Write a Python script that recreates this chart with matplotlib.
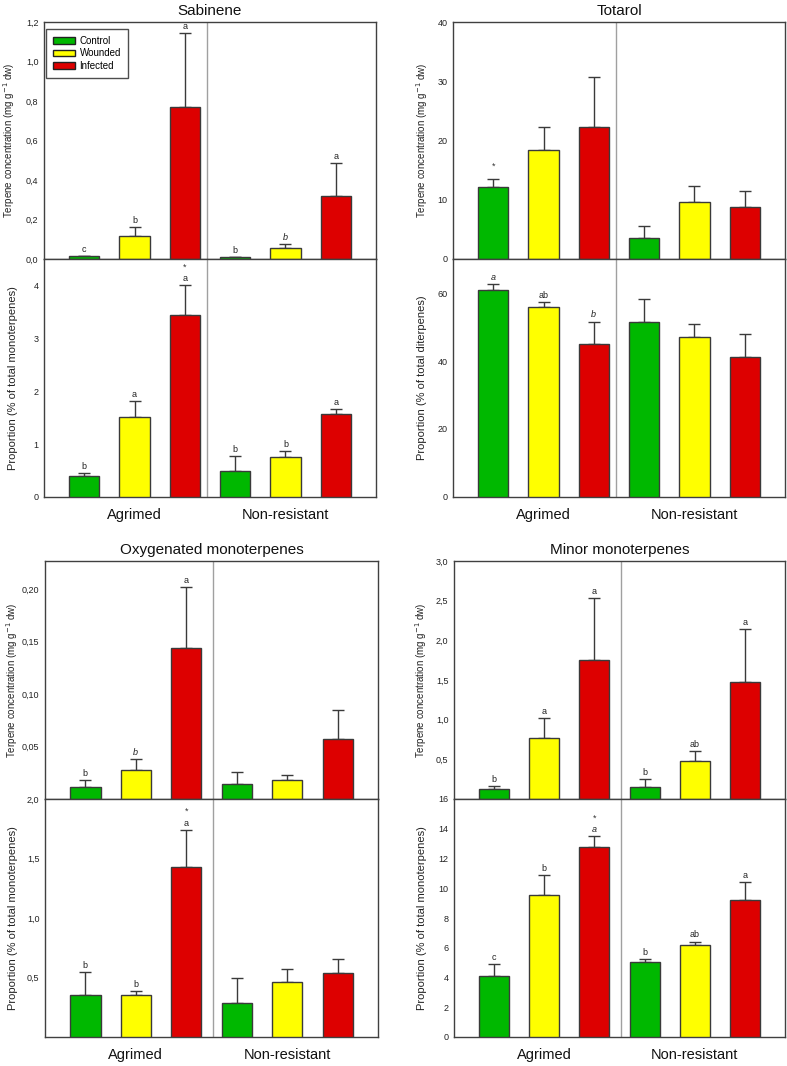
import numpy as np
import matplotlib
matplotlib.use("Agg")
import matplotlib.pyplot as plt
from matplotlib.patches import Patch
from matplotlib.ticker import FuncFormatter

plt.rcParams['font.family'] = ['Liberation Sans', 'DejaVu Sans']

groups = ["Agrimed", "Non-resistant"]
treatments = ["Control", "Wounded", "Infected"]
colors = ["#00b800", "#ffff00", "#dd0000"]

# order: Agrimed C/W/I, Non-resistant C/W/I
# letter codes: "*" prefix = asterisk above, "~" prefix = italic letter
sab_conc = [0.013, 0.118, 0.77, 0.008, 0.054, 0.32]
sab_conc_err = [0.004, 0.042, 0.375, 0.004, 0.02, 0.168]
sab_conc_let = ["c", "b", "a", "b", "~b", "a"]
sab_prop = [0.40, 1.52, 3.44, 0.50, 0.75, 1.57]
sab_prop_err = [0.055, 0.29, 0.56, 0.27, 0.12, 0.09]
sab_prop_let = ["b", "a", "*a", "b", "b", "a"]

tot_conc = [12.1, 18.45, 22.2, 3.6, 9.6, 8.7]
tot_conc_err = [1.45, 3.85, 8.5, 2.0, 2.7, 2.7]
tot_conc_let = ["*", "", "", "", "", ""]
tot_prop = [60.8, 55.8, 44.9, 51.6, 47.1, 41.3]
tot_prop_err = [1.9, 1.6, 6.7, 6.5, 3.9, 6.5]
tot_prop_let = ["~a", "ab", "~b", "", "", ""]

oxy_conc = [0.011, 0.028, 0.144, 0.0147, 0.018, 0.057]
oxy_conc_err = [0.007, 0.010, 0.058, 0.0113, 0.005, 0.0275]
oxy_conc_let = ["b", "~b", "a", "", "", ""]
oxy_prop = [0.35, 0.354, 1.43, 0.286, 0.458, 0.539]
oxy_prop_err = [0.197, 0.031, 0.312, 0.214, 0.112, 0.115]
oxy_prop_let = ["b", "b", "*a", "", "", ""]

min_conc = [0.13, 0.77, 1.755, 0.152, 0.48, 1.473]
min_conc_err = [0.035, 0.25, 0.782, 0.098, 0.13, 0.671]
min_conc_let = ["b", "a", "a", "b", "ab", "a"]
min_prop = [4.1, 9.56, 12.8, 5.07, 6.2, 9.18]
min_prop_err = [0.8, 1.32, 0.7, 0.2, 0.22, 1.22]
min_prop_let = ["c", "b", "*~a", "b", "ab", "a"]

conc_label = "Terpene concentration (mg g$^{-1}$ dw)"


def comma_fmt(nd):
  return FuncFormatter(lambda v, p: f"{v:.{nd}f}".replace(".", ","))


def draw(ax, means, errs, letters, ylim, ticks, nd, divider):
  x = np.arange(6)
  ax.bar(x, means, width=0.6, color=colors * 2, edgecolor="#3a3a3a",
         linewidth=1, zorder=3)
  ax.errorbar(x, means, yerr=[np.zeros(6), errs], fmt="none",
              ecolor="#3a3a3a", elinewidth=1, capsize=4, capthick=1, zorder=2)
  for xi, m, e, lab in zip(x, means, errs, letters):
    star = lab.startswith("*")
    lab = lab.lstrip("*")
    italic = lab.startswith("~")
    lab = lab.lstrip("~")
    if lab:
      ax.annotate(lab, (xi, m + e), xytext=(0, 1.5), textcoords="offset points",
                  ha="center", va="bottom", fontsize=6.5, color="#222222",
                  style="italic" if italic else "normal")
    if star:
      ax.annotate("*", (xi, m + e), xytext=(0, 13 if lab else 9),
                  textcoords="offset points", ha="center", va="center",
                  fontsize=6.5, color="#333333")
  ax.axvline(divider, color="#a0a0a0", lw=1, zorder=1)
  ax.set_xlim(-0.8, 5.8)
  ax.set_ylim(*ylim)
  ax.set_yticks(ticks)
  ax.yaxis.set_major_formatter(comma_fmt(nd))
  ax.tick_params(axis="y", length=0, labelsize=6.5, pad=4, labelcolor="#222222")
  ax.tick_params(axis="x", length=0)
  for s in ax.spines.values():
    s.set_color("#404040")
    s.set_linewidth(1)


fig = plt.figure(figsize=(7.87, 10.66), dpi=100)
W, H = 787, 1066


def axes_px(left, top, right, bottom):
  return fig.add_axes([left / W, (H - bottom) / H, (right - left) / W, (bottom - top) / H])


panels = [
  # title, left, right, top, mid, bottom, divider, conc, prop, label x
  ("Sabinene", 44, 376, 22, 259, 497, 2.45,
   (sab_conc, sab_conc_err, sab_conc_let, (0, 1.2), np.arange(0, 1.21, 0.2), 1),
   (sab_prop, sab_prop_err, sab_prop_let, (0, 4.5), [0, 1, 2, 3, 4], 0),
   "Proportion (% of total monoterpenes)", (-0.105, -0.093)),
  ("Totarol", 453, 785, 22, 259, 497, 2.45,
   (tot_conc, tot_conc_err, tot_conc_let, (0, 40), [0, 10, 20, 30, 40], 0),
   (tot_prop, tot_prop_err, tot_prop_let, (0, 70), [0, 20, 40, 60], 0),
   "Proportion (% of total diterpenes)", (-0.094, -0.094)),
  ("Oxygenated monoterpenes", 45, 378, 561, 799, 1037, 2.52,
   (oxy_conc, oxy_conc_err, oxy_conc_let, (0, 0.227), [0.05, 0.10, 0.15, 0.20], 2),
   (oxy_prop, oxy_prop_err, oxy_prop_let, (0, 2.0), [0.5, 1.0, 1.5, 2.0], 1),
   "Proportion (% of total monoterpenes)", (-0.099, -0.096)),
  ("Minor monoterpenes", 454, 785, 561, 799, 1037, 2.52,
   (min_conc, min_conc_err, min_conc_let, (0, 3.0), [0.5, 1.0, 1.5, 2.0, 2.5, 3.0], 1),
   (min_prop, min_prop_err, min_prop_let, (0, 16), np.arange(0, 17, 2), 0),
   "Proportion (% of total monoterpenes)", (-0.098, -0.098)),
]

for title, l, r, t, m, b, div, conc, prop, plabel, lx in panels:
  ax_top = axes_px(l, t, r, m)
  ax_bot = axes_px(l, m, r, b)
  draw(ax_top, *conc, div)
  draw(ax_bot, *prop, div)
  ax_top.set_xticks([])
  ax_bot.set_xticks([1, 4])
  ax_bot.set_xticklabels(groups, fontsize=10.5, color="#111111")
  ax_bot.tick_params(axis="x", pad=8)
  ax_top.set_title(title, fontsize=11, pad=5, color="#111111")
  ax_top.set_ylabel(conc_label, fontsize=7.0, color="#222222", va="center")
  ax_bot.set_ylabel(plabel, fontsize=8.0, color="#222222", va="center")
  ax_top.yaxis.set_label_coords(lx[0], 0.5)
  ax_bot.yaxis.set_label_coords(lx[1], 0.5)
  if title == "Sabinene":
    handles = [Patch(facecolor=c, edgecolor="#222222", lw=1) for c in colors]
    leg = ax_top.legend(handles, treatments, loc="upper left",
                        bbox_to_anchor=(0.006, 0.97), borderaxespad=0,
                        fontsize=7, frameon=True, fancybox=False,
                        edgecolor="#222222", handlelength=2.25,
                        handleheight=0.7, handletextpad=0.5, borderpad=0.7,
                        labelspacing=0.25)
    leg.get_frame().set_linewidth(1)

fig.savefig("out.png", dpi=100)
